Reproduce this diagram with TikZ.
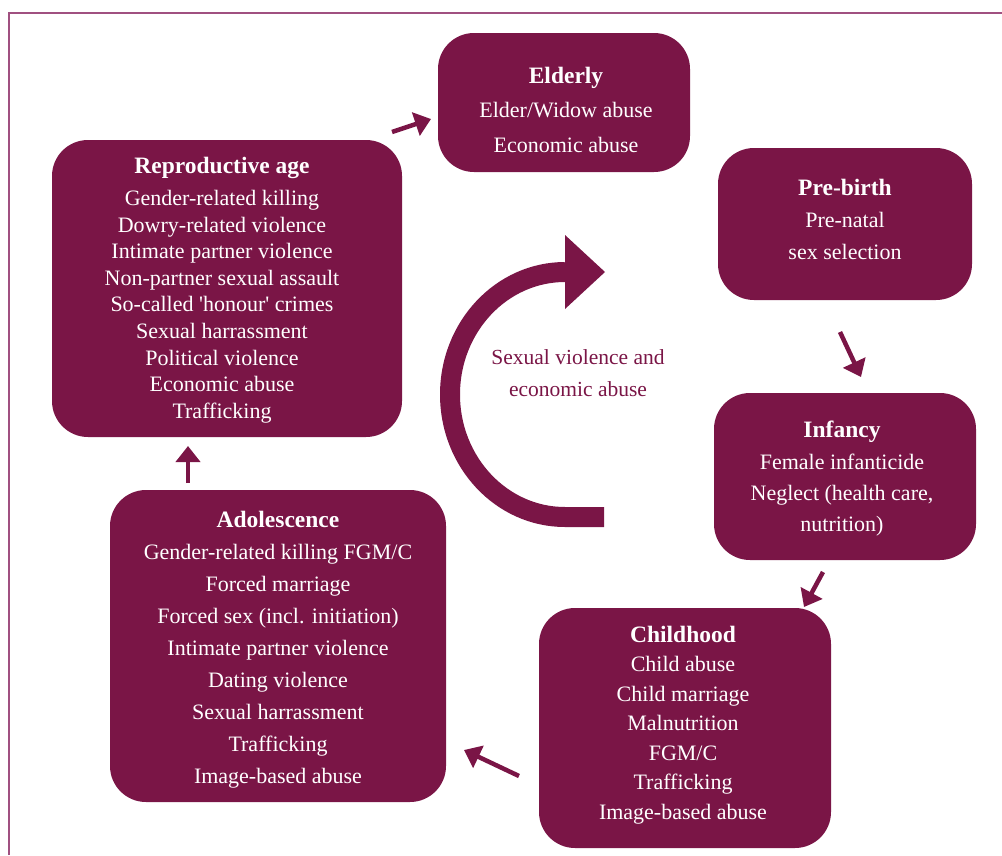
\documentclass[tikz,border=0pt]{standalone}
\usepackage{fontspec}
\setmainfont{Liberation Serif}
\usetikzlibrary{arrows.meta,calc}
\definecolor{wine}{RGB}{122,21,70}
\definecolor{framec}{RGB}{160,80,128}
\begin{document}
\begin{tikzpicture}[x=1pt,y=-1pt,
 box/.style={fill=wine, rounded corners=36pt, draw=none, inner sep=0pt},
 ttl/.style={text=white, font=\fontsize{23.5}{26}\selectfont\bfseries, anchor=base, inner sep=0pt},
 txt/.style={text=white, font=\fontsize{22}{24}\selectfont, anchor=base, inner sep=0pt},
 lbl/.style={text=wine, font=\fontsize{21.5}{24}\selectfont, anchor=base, inner sep=0pt},
 arr/.style={draw=wine, line width=4.5pt, -{Triangle[width=24pt,length=16pt]}},
]
\useasboundingbox (0,0) rectangle (1002,855);
\draw[framec, line width=1.5pt] (9,855) -- (9,13) -- (1002,13);

% boxes
\node[box, minimum width=252pt, minimum height=139pt] (eld) at (564,102.5) {};
\node[box, minimum width=254pt, minimum height=152pt] (pre) at (845,224) {};
\node[box, minimum width=350pt, minimum height=297pt] (rep) at (227,288.5) {};
\node[box, minimum width=262pt, minimum height=167pt] (inf) at (845,476.5) {};
\node[box, minimum width=292pt, minimum height=240pt] (chi) at (685,728) {};
\node[box, minimum width=336pt, minimum height=312pt] (ado) at (278,646) {};

% Elderly
\node[ttl] (eld-t) at (566,83) {Elderly};
\foreach \t [count=\i from 0] in {Elder/Widow abuse, Economic abuse}
  \node[txt] (eld-\i) at (566,{117.5+35*\i}) {\t};

% Pre-birth
\node[ttl] (pre-t) at (845,195) {Pre-birth};
\foreach \t [count=\i from 0] in {Pre-natal, sex selection}
  \node[txt] (pre-\i) at (845,{227.5+32*\i}) {\t};

% Reproductive age
\node[ttl] (rep-t) at (222,173) {Reproductive age};
\foreach \t [count=\i from 0] in {Gender-related killing, Dowry-related violence, Intimate partner violence, Non-partner sexual assault, So-called \textquotesingle honour\textquotesingle\ crimes, Sexual harrassment, Political violence, Economic abuse, Trafficking}
  \node[txt] (rep-\i) at (222,{205.5+26.6*\i}) {\t};

% Infancy
\node[ttl] (inf-t) at (842,437) {Infancy};
\foreach \t [count=\i from 0] in {Female infanticide, {Neglect (health care,}, nutrition)}
  \node[txt] (inf-\i) at (842,{469.5+31*\i}) {\t};

% Childhood
\node[ttl] (chi-t) at (683,642) {Childhood};
\foreach \t [count=\i from 0] in {Child abuse, Child marriage, Malnutrition, FGM/C, Trafficking, Image-based abuse}
  \node[txt] (chi-\i) at (683,{671.5+29.5*\i}) {\t};

% Adolescence
\node[ttl] (ado-t) at (278,527) {Adolescence};
\foreach \t [count=\i from 0] in {Gender-related killing FGM/C, Forced marriage, Forced sex (incl. initiation), Intimate partner violence, Dating violence, Sexual harrassment, Trafficking, Image-based abuse}
  \node[txt] (ado-\i) at (278,{559.5+32*\i}) {\t};

% centre label
\node[lbl] (mid-0) at (578,364) {Sexual violence and};
\node[lbl] (mid-1) at (578,396) {economic abuse};

% big curved arrow
\coordinate (ca-s) at (604,517);
\coordinate (ca-b) at (565,517);
\coordinate (ca-h) at (565,272);
\coordinate (ca-t) at (605,272);
\draw[wine, line width=20pt] (ca-s) -- (ca-b) arc[start angle=90, end angle=270, x radius=115, y radius=122.5];
\fill[wine] ($(ca-h)+(0,-37)$) -- (ca-t) -- ($(ca-h)+(0,37)$) -- cycle;

% small arrows
\coordinate (a1s) at (392,132); \coordinate (a1e) at (431,119);
\coordinate (a2s) at (840,332); \coordinate (a2e) at (861,377);
\coordinate (a3s) at (823,572); \coordinate (a3e) at (804,607);
\coordinate (a4s) at (519,776); \coordinate (a4e) at (464,750);
\coordinate (a5s) at (188,483); \coordinate (a5e) at (188,446);
\draw[arr] (a1s) -- (a1e);
\draw[arr] (a2s) -- (a2e);
\draw[arr] (a3s) -- (a3e);
\draw[arr] (a4s) -- (a4e);
\draw[arr] (a5s) -- (a5e);
\end{tikzpicture}
\end{document}
